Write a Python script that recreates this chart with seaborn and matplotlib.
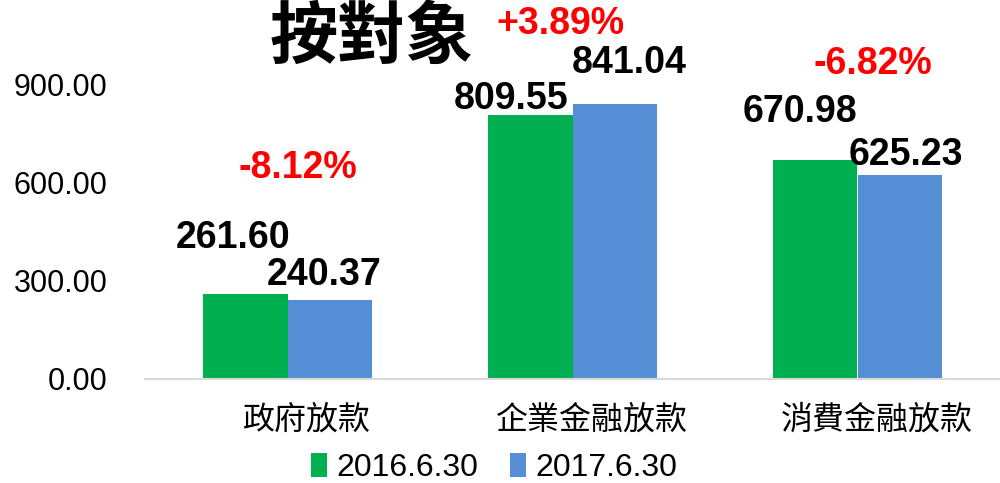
import pandas as pd
import seaborn as sns
import matplotlib.pyplot as plt
import matplotlib.transforms as mtransforms

# data
categories = ["政府放款", "企業金融放款", "消費金融放款"]
periods = ["2016.6.30", "2017.6.30"]
values_2016 = [261.60, 809.55, 670.98]
values_2017 = [240.37, 841.04, 625.23]
y_ticks = [0, 300, 600, 900]
title = "按對象"

colors = ["#00B050", "#558ED5"]
cjk = "Noto Sans CJK TC"

# label placement (pixel offsets from each bar top), hand-tuned like the source
offsets = {
    "2016.6.30": [(-12, 56), (-19, 16), (-16, 48)],
    "2017.6.30": [(-5, 25), (15, 41), (6, 20)],
}
change_offsets = [(10, 126), (-12, 80), (15, 96)]

df = pd.DataFrame({
    "category": categories * 2,
    "period": [periods[0]] * 3 + [periods[1]] * 3,
    "value": values_2016 + values_2017,
})

sns.set_theme(style="white")
plt.rcParams["font.family"] = ["Liberation Sans", cjk]
plt.rcParams["text.color"] = "black"

fig = plt.figure(figsize=(10, 4.83), dpi=100)
ax = fig.add_axes([0.145, 104 / 483, 0.855, 359 / 483])

sns.barplot(data=df, x="category", y="value", hue="period", hue_order=periods,
            palette=colors, width=0.59, saturation=1, linewidth=0, ax=ax, legend=True)

ax.set_xlim(-0.5, 2.5)
ax.set_ylim(0, 359 * 900 / 294)
ax.set_yticks(y_ticks)
ax.set_yticklabels([f"{v:.2f}" for v in y_ticks], fontsize=22, color="black")
ax.set_xticks(range(len(categories)))
ax.set_xticklabels(categories, fontsize=23, family=cjk, color="black")
ax.tick_params(axis="y", length=0, pad=27)
ax.tick_params(axis="x", length=0, pad=18)
ax.set_xlabel("")
ax.set_ylabel("")
for side in ["left", "right", "top"]:
    ax.spines[side].set_visible(False)
ax.spines["bottom"].set_color("#d9d9d9")
ax.spines["bottom"].set_linewidth(1.5)

# category labels sit a little right of the group centres in the source
shift = mtransforms.ScaledTranslation(19 / 100, 0, fig.dpi_scale_trans)
for lab in ax.get_xticklabels():
    lab.set_transform(lab.get_transform() + shift)

# value labels
for period, container in zip(periods, ax.containers):
    for bar, (dx, dy) in zip(container, offsets[period]):
        h = bar.get_height()
        ax.annotate(f"{h:.2f}", (bar.get_x() + bar.get_width() / 2, h),
                    xytext=(dx, dy), textcoords="offset pixels",
                    ha="center", va="center", fontsize=27, weight="bold", color="black")

# change labels
for i, (a, b) in enumerate(zip(values_2016, values_2017)):
    pct = (b - a) / a * 100
    dx, dy = change_offsets[i]
    ax.annotate(f"{pct:+.2f}%", (i, max(a, b)), xytext=(dx, dy), textcoords="offset pixels",
                ha="center", va="center", fontsize=27, weight="bold", color="#FF0000",
                annotation_clip=False)

# legend at the bottom
handles, labels = ax.get_legend_handles_labels()
ax.get_legend().remove()
fig.legend(handles, labels, loc="center", bbox_to_anchor=(0.494, 15 / 483), ncol=2,
           frameon=False, fontsize=23, handlelength=0.5, handleheight=0.8,
           handletextpad=0.3, columnspacing=1.0)

fig.text(0.372, (483 - 38) / 483, title, ha="center", va="center",
         fontsize=49, weight="bold", family=cjk, color="black")

fig.savefig("out.png", dpi=100)
